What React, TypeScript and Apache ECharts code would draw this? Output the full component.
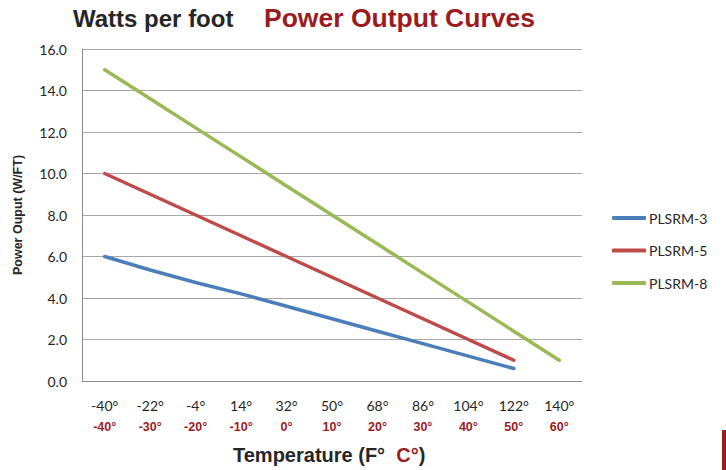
import React, { useEffect, useRef } from "react";
import * as echarts from "echarts";

const categoriesF = ["-40°", "-22°", "-4°", "14°", "32°", "50°", "68°", "86°", "104°", "122°", "140°"];
const categoriesC = ["-40°", "-30°", "-20°", "-10°", "0°", "10°", "20°", "30°", "40°", "50°", "60°"];
const plsrm3 = [6.0, 5.35, 4.75, 4.2, 3.6, 3.0, 2.4, 1.8, 1.2, 0.6, null];
const plsrm5 = [10, 9, 8, 7, 6, 5, 4, 3, 2, 1, null];
const plsrm8 = [15, 13.6, 12.2, 10.8, 9.4, 8.0, 6.6, 5.2, 3.8, 2.4, 1.0];
const yTicks = { min: 0, max: 16, interval: 2 };

const DARK = "#262626";
const MAROON = "#9b1c1f";
const FONT = "Lato, 'Open Sans', sans-serif";
const BOLD = "'Liberation Sans', Arial, sans-serif";

export default function App() {
  const ref = useRef<HTMLDivElement>(null);
  useEffect(() => {
    if (!ref.current) return;
    const chart = echarts.init(ref.current, null, { renderer: "svg" });
    chart.setOption({
      animation: false,
      backgroundColor: "#ffffff",
      grid: { left: 82, right: 144, top: 49, bottom: 89, containLabel: false },
      graphic: [
        {
          type: "text",
          left: 73,
          top: 6,
          style: { text: "Watts per foot", fill: DARK, font: `bold 24px ${BOLD}` },
        },
        {
          type: "text",
          left: 264,
          top: 4,
          style: { text: "Power Output Curves", fill: MAROON, font: `bold 26.5px ${BOLD}` },
        },
        {
          type: "text",
          left: 233,
          top: 445,
          style: {
            text: "{a|Temperature (F°  }{b|C°}{a|)}",
            rich: {
              a: { fill: DARK, font: `bold 20px ${BOLD}` },
              b: { fill: MAROON, font: `bold 20px ${BOLD}` },
            },
          },
        },
        {
          type: "rect",
          shape: { x: 722, y: 430, width: 4, height: 40 },
          style: { fill: MAROON },
        },
      ],
      legend: {
        orient: "vertical",
        left: 607,
        top: 206,
        itemWidth: 34,
        itemHeight: 4,
        itemGap: 18.5,
        icon: "roundRect",
        textStyle: { fontFamily: FONT, fontSize: 14, color: DARK, lineHeight: 14, padding: [0, 0, 0, -2] },
        data: ["PLSRM-3", "PLSRM-5", "PLSRM-8"],
      },
      xAxis: {
        type: "category",
        data: categoriesF,
        boundaryGap: true,
        axisLine: { show: true, lineStyle: { color: "#8c8c8c", width: 1 } },
        axisTick: { show: false },
        axisLabel: {
          interval: 0,
          margin: 13,
          formatter: (v: string, i: number) => `{f|${v}}\n{c|${categoriesC[i]}}`,
          rich: {
            f: { fontFamily: FONT, fontSize: 14, color: DARK, lineHeight: 22 },
            c: { fontFamily: BOLD, fontSize: 12.5, fontWeight: "bold", color: MAROON, lineHeight: 22 },
          },
        },
      },
      yAxis: {
        type: "value",
        min: yTicks.min,
        max: yTicks.max,
        interval: yTicks.interval,
        name: "Power Ouput (W/FT)",
        nameLocation: "middle",
        nameGap: 58,
        nameTextStyle: { fontFamily: BOLD, fontWeight: "bold", fontSize: 12.5, color: DARK },
        axisLine: { show: true, lineStyle: { color: "#8c8c8c", width: 1 } },
        axisTick: { show: false },
        splitLine: { show: true, lineStyle: { color: "#a6a6a6", width: 1 } },
        axisLabel: {
          margin: 15,
          fontFamily: FONT,
          fontSize: 14,
          color: DARK,
          formatter: (v: number) => v.toFixed(1),
        },
      },
      series: [
        { name: "PLSRM-3", type: "line", data: plsrm3, symbol: "none", color: "#4a7ebb", lineStyle: { width: 3.5, cap: "round" } },
        { name: "PLSRM-5", type: "line", data: plsrm5, symbol: "none", color: "#be4b48", lineStyle: { width: 3.5, cap: "round" } },
        { name: "PLSRM-8", type: "line", data: plsrm8, symbol: "none", color: "#98b954", lineStyle: { width: 3.5, cap: "round" } },
      ],
    });
    return () => chart.dispose();
  }, []);
  return <div ref={ref} style={{ width: 726, height: 470, position: "absolute", left: 0, top: 0 }} />;
}
